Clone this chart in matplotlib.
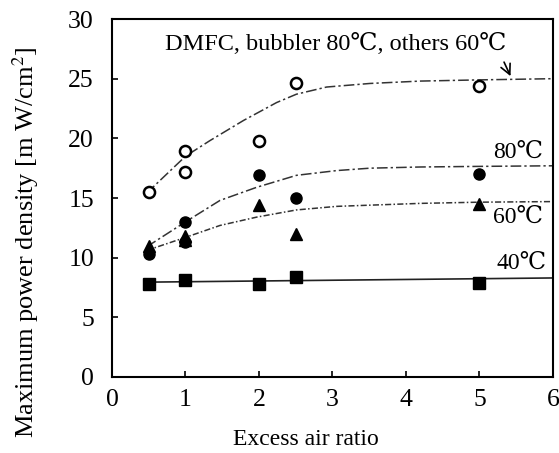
import matplotlib
matplotlib.use('Agg')
import matplotlib.pyplot as plt

plt.rcParams['font.family'] = ['Liberation Serif', 'DejaVu Serif', 'Noto Sans CJK JP']
plt.rcParams['mathtext.fontset'] = 'stix'

# measured points
air_x = [0.5, 1, 1, 2, 2.5, 5]
dmfc_y = [15.5, 18.9, 17.2, 19.8, 24.6, 24.4]
c80_y = [10.3, 13.0, 11.3, 16.9, 15.0, 17.0]
c60_x = [0.5, 1, 1, 2, 2.5, 5]
c60_y = [11.0, 11.8, 11.5, 14.4, 12.0, 14.5]
sq_x = [0.5, 1, 2, 2.5, 5]
c40_y = [7.8, 8.1, 7.8, 8.4, 7.9]

# fitted curves
fit_x = [0.47, 1.0, 1.33, 1.79, 2.24, 2.51, 2.92, 3.51, 4.2, 5.0, 6.0]
fit_dmfc = [15.4, 18.5, 19.8, 21.5, 23.0, 23.7, 24.3, 24.6, 24.8, 24.9, 25.0]
fit2_x = [0.47, 1.0, 1.47, 1.97, 2.51, 3.06, 3.51, 4.2, 5.0, 6.0]
fit_80 = [10.9, 13.0, 14.8, 15.9, 16.9, 17.3, 17.5, 17.6, 17.65, 17.7]
fit_60 = [10.6, 11.7, 12.7, 13.4, 14.0, 14.3, 14.4, 14.55, 14.65, 14.7]
line40_x = [0.5, 6]
line40_y = [7.95, 8.3]

fig = plt.figure(figsize=(5.59, 4.53), dpi=100)
ax = fig.add_axes([0.2004, 0.1678, 0.7886, 0.7902])

ax.plot(fit_x, fit_dmfc, color='#333333', lw=1.1, ls=(0, (7, 2, 1.5, 2)))
ax.plot(fit2_x, fit_80, color='#333333', lw=1.1, ls=(0, (7, 2, 1.5, 2)))
ax.plot(fit2_x, fit_60, color='#333333', lw=1.1, ls=(0, (4, 1.5, 1, 1.5)))
ax.plot(line40_x, line40_y, color='#222222', lw=1.2)

ax.plot(air_x, dmfc_y, 'o', ms=8, mfc='white', mec='black', mew=1.8, ls='none')
ax.plot(air_x, c80_y, 'o', ms=8, color='black', ls='none')
ax.plot(c60_x, c60_y, '^', ms=9, color='black', ls='none')
ax.plot(sq_x, c40_y, 's', ms=8, color='black', ls='none')

ax.set_xlim(0, 6)
ax.set_ylim(0, 30)
ax.set_xticks(range(0, 7))
ax.set_yticks(range(0, 31, 5))
ax.tick_params(direction='in', length=4, width=1.2, labelsize=18.5)
ax.tick_params(axis='y', pad=13)
ax.tick_params(axis='x', pad=9)
for s in ax.spines.values():
    s.set_linewidth(1.5)

ax.set_xlabel('Excess air ratio', fontsize=17)
ax.xaxis.set_label_coords(0.439, -0.145)
ax.set_ylabel('Maximum power density [m W/cm$^2$]', fontsize=19)
ax.yaxis.set_label_coords(-0.16, 0.377)

ax.text(3.05, 27.9, 'DMFC, bubbler 80\u2103, others 60\u2103', fontsize=17.5, ha='center', va='center')
ax.text(5.86, 18.8, '80\u2103', fontsize=17, ha='right', va='center')
ax.text(5.86, 13.4, '60\u2103', fontsize=17, ha='right', va='center')
ax.text(5.92, 9.55, '40\u2103', fontsize=17, ha='right', va='center')
ax.annotate('', xy=(5.44, 25.0), xytext=(5.32, 26.6),
            arrowprops=dict(arrowstyle='->', color='black', lw=1.2, mutation_scale=18))

fig.savefig('out.png', dpi=100)
